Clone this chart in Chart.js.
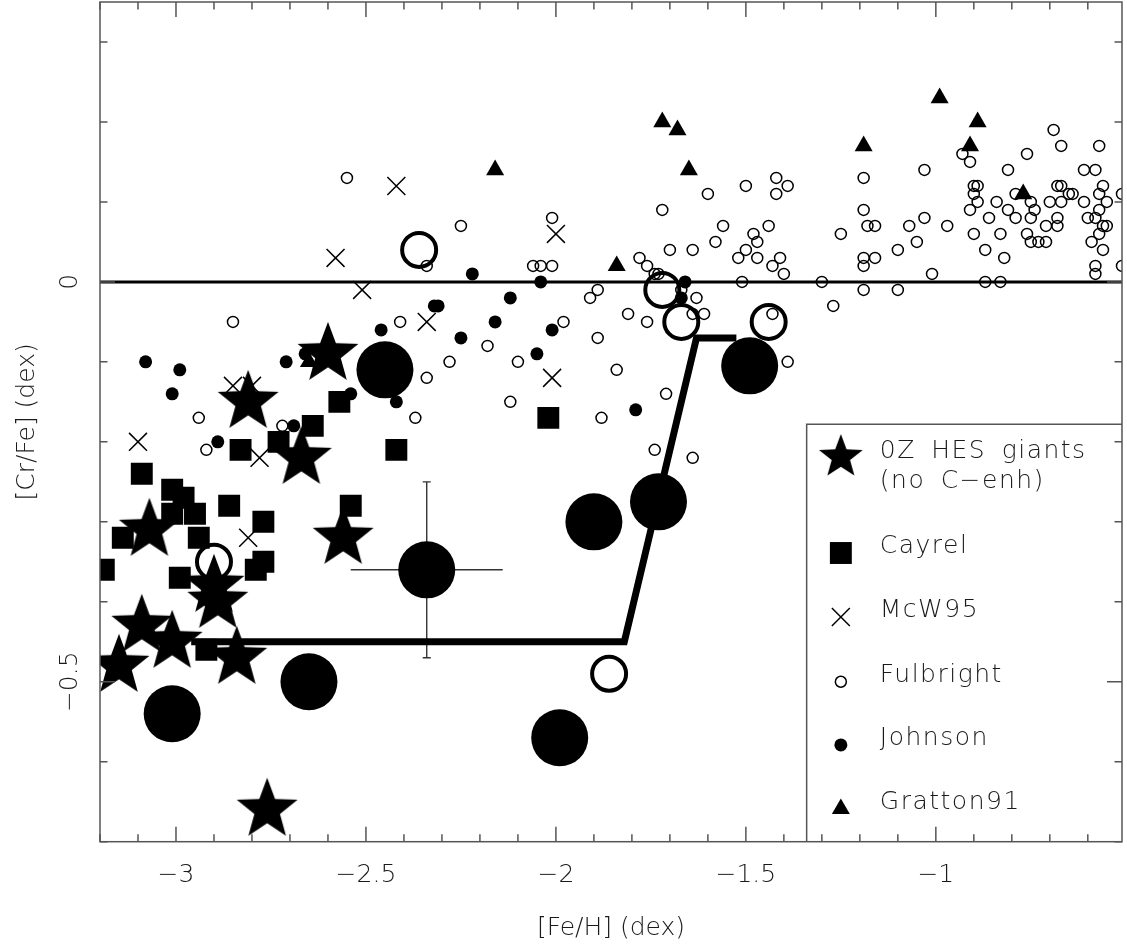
<!DOCTYPE html>
<html><head><meta charset="utf-8">
<script src="https://cdn.jsdelivr.net/npm/chart.js@4.4.1/dist/chart.umd.min.js"></script>
<style>html,body{margin:0;padding:0;background:#fff;overflow:hidden}canvas{display:block}</style>
</head><body>
<canvas id="c" width="1127" height="951" style="width:1127px;height:951px"></canvas>
<script>
// ---------------- data ----------------
const xTickVals = [-3, -2.5, -2, -1.5, -1];
const yTickVals = [0, -0.5];

// 0Z HES giants (no C-enh) - stars
const starX = [-2.60,-2.81,-2.67,-3.07,-2.56,-2.90,-2.89,-3.09,-3.01,-3.15,-2.84,-2.76];
const starY = [-0.09,-0.15,-0.22,-0.31,-0.32,-0.38,-0.40,-0.43,-0.45,-0.48,-0.47,-0.66];

// Cayrel - squares
const cayX = [-2.57,-2.64,-2.73,-2.83,-2.42,-3.09,-3.01,-2.98,-3.01,-2.95,-2.86,-2.77,-2.54,-3.14,-2.94,-3.19,-2.77,-2.79,-2.99,-2.92,-2.02];
const cayY = [-0.15,-0.18,-0.20,-0.21,-0.21,-0.24,-0.26,-0.27,-0.29,-0.29,-0.28,-0.30,-0.28,-0.32,-0.32,-0.36,-0.35,-0.36,-0.37,-0.46,-0.17];

// McW95 - crosses
const mcwX = [-2.85,-2.80,-3.10,-2.78,-2.81,-2.42,-2.00,-2.58,-2.51,-2.34,-2.01];
const mcwY = [-0.13,-0.13,-0.20,-0.22,-0.32,0.12,0.06,0.03,-0.01,-0.05,-0.12];

// Fulbright - small open circles
const fulX = [
-2.85,-2.41,-2.94,-2.37,-2.72,-2.92,-2.55,-2.25,-2.01,-2.34,
-2.06,-2.04,-2.01,-1.78,-1.76,-1.72,-1.89,-1.91,-1.98,-1.81,
-1.76,-2.18,-2.28,-2.10,-2.34,-1.89,-1.84,-2.12,-1.88,-1.42,
-1.39,-1.42,-1.50,-1.60,-1.56,-1.44,-1.48,-1.47,-1.58,-1.70,
-1.64,-1.50,-1.52,-1.47,-1.41,-1.43,-1.40,-1.74,-1.73,-1.51,
-1.30,-1.25,-1.27,-1.67,-1.63,-1.64,-1.61,-1.43,-1.39,-1.71,
-1.74,-1.64,-0.69,-0.67,-0.57,-0.93,-0.91,-0.76,-1.03,-0.81,
-0.61,-0.58,-1.19,-0.90,-0.89,-0.68,-0.67,-0.56,-0.90,-0.79,
-0.65,-0.64,-0.57,-0.51,-0.89,-0.84,-0.75,-0.70,-0.67,-0.61,
-0.55,-1.19,-0.91,-0.81,-0.74,-0.57,-1.03,-0.86,-0.79,-0.75,
-0.68,-0.60,-0.58,-1.18,-1.16,-1.07,-0.97,-0.71,-0.68,-0.56,
-0.55,-0.90,-0.83,-0.76,-0.57,-0.75,-0.73,-0.71,-1.05,-0.59,
-1.10,-0.87,-0.56,-1.19,-1.16,-0.82,-1.19,-0.58,-0.51,-1.01,
-0.58,-0.87,-0.83,-1.19,-1.10];
const fulY = [
-0.05,-0.05,-0.17,-0.17,-0.18,-0.21,0.13,0.07,0.08,0.02,
0.02,0.02,0.02,0.03,0.02,0.09,-0.01,-0.02,-0.05,-0.04,
-0.05,-0.08,-0.10,-0.10,-0.12,-0.07,-0.11,-0.15,-0.17,0.13,
0.12,0.11,0.12,0.11,0.07,0.07,0.06,0.05,0.05,0.04,
0.04,0.04,0.03,0.03,0.03,0.02,0.01,0.01,0.01,0.00,
0.00,0.06,-0.03,-0.01,-0.02,-0.04,-0.04,-0.04,-0.10,-0.14,
-0.21,-0.22,0.19,0.17,0.17,0.16,0.15,0.16,0.14,0.14,
0.14,0.14,0.13,0.12,0.12,0.12,0.12,0.12,0.11,0.11,
0.11,0.11,0.11,0.11,0.10,0.10,0.10,0.10,0.10,0.10,
0.10,0.09,0.09,0.09,0.09,0.09,0.08,0.08,0.08,0.08,
0.08,0.08,0.08,0.07,0.07,0.07,0.07,0.07,0.07,0.07,
0.07,0.06,0.06,0.06,0.06,0.05,0.05,0.05,0.05,0.05,
0.04,0.04,0.04,0.03,0.03,0.03,0.02,0.02,0.02,0.01,
0.01,0.00,0.00,-0.01,-0.01];

// Johnson - small filled circles
const johX = [-3.08,-2.99,-3.01,-2.71,-2.66,-2.46,-2.54,-2.42,-2.69,-2.89,-2.22,-2.04,-2.12,-2.32,-2.31,-2.16,-2.25,-2.01,-2.05,-1.79,-1.66,-1.67];
const johY = [-0.10,-0.11,-0.14,-0.10,-0.09,-0.06,-0.14,-0.15,-0.18,-0.20,0.01,0.00,-0.02,-0.03,-0.03,-0.05,-0.07,-0.06,-0.09,-0.16,0.00,-0.02];

// Gratton91 - triangles
const graX = [-2.16,-1.84,-1.65,-1.72,-1.68,-0.99,-0.89,-1.19,-0.91,-0.77,-2.65];
const graY = [0.14,0.02,0.14,0.20,0.19,0.23,0.20,0.17,0.17,0.11,-0.10];

// large filled circles
const bigX = [-2.45,-2.34,-3.01,-2.65,-1.99,-1.90,-1.73,-1.49];
const bigY = [-0.11,-0.36,-0.54,-0.50,-0.57,-0.30,-0.275,-0.105];

// error bar (on one large filled circle)
const errX = [-2.34];
const errY = [-0.36];
const errDx = [0.20];
const errDy = [0.11];

// large open circles
const openX = [-2.36,-2.90,-1.72,-1.67,-1.44,-1.86];
const openY = [0.04,-0.35,-0.01,-0.05,-0.05,-0.49];

// thick model line
const modelX = [-2.96,-1.82,-1.63,-1.525];
const modelY = [-0.45,-0.45,-0.07,-0.07];

// solar reference line
const refX = [-3.2,-0.51];
const refY = [0,0];

// ---------------- style ----------------
const FAM = "'DejaVu Sans', 'Liberation Sans', sans-serif";
const FW = '200';
const FS = 25;
const TXT = '#1a1a1a';
const AX = '#555';

function fmt(v){ return v === 0 ? '0' : (v < 0 ? '\u2212' : '') + String(Math.abs(v)); }
const pts = (xs, ys) => xs.map((x, i) => ({x: x, y: ys[i]}));

function starCanvas(R, ratio){
  const s = Math.ceil(2 * R + 4);
  const c = document.createElement('canvas'); c.width = s; c.height = s;
  const g = c.getContext('2d'); g.fillStyle = '#000'; g.beginPath();
  for (let i = 0; i < 10; i++){
    const a = -Math.PI / 2 + i * Math.PI / 5;
    const r = (i % 2) ? R * ratio : R;
    const px = s / 2 + r * Math.cos(a), py = s / 2 + r * Math.sin(a);
    if (i) g.lineTo(px, py); else g.moveTo(px, py);
  }
  g.closePath(); g.fill();
  return c;
}
const starImg = starCanvas(32, 0.42);
const starLegendImg = starCanvas(23, 0.42);

const CLEAR = 'rgba(0,0,0,0)';
const dsGratton = {label:'Gratton91', data:pts(graX, graY), pointStyle:'triangle', pointRadius:10.4, backgroundColor:'#000', borderColor:'#000', borderWidth:0, clip:0};
const dsJohnson = {label:'Johnson', data:pts(johX, johY), pointStyle:'circle', pointRadius:6.5, backgroundColor:'#000', borderColor:'#000', borderWidth:0, clip:0};
const dsFul = {label:'Fulbright', data:pts(fulX, fulY), pointStyle:'circle', pointRadius:5.5, backgroundColor:CLEAR, borderColor:'#000', borderWidth:1.5, clip:0};
const dsMcw = {label:'McW95', data:pts(mcwX, mcwY), pointStyle:'crossRot', pointRadius:12.7, backgroundColor:CLEAR, borderColor:'#000', borderWidth:1.5, clip:0};
const dsCay = {label:'Cayrel', data:pts(cayX, cayY), pointStyle:'rect', pointRadius:15.5, backgroundColor:'#000', borderColor:'#000', borderWidth:0, clip:0};
const dsStar = {label:'0Z HES giants (no C\u2212enh)', data:pts(starX, starY), pointStyle:starImg, pointRadius:30, clip:0};
const dsOpen = {label:'open', data:pts(openX, openY), pointStyle:'circle', pointRadius:17, backgroundColor:CLEAR, borderColor:'#000', borderWidth:4, clip:0};
const dsBig = {label:'big', data:pts(bigX, bigY), pointStyle:'circle', pointRadius:28.5, backgroundColor:'#000', borderColor:'#000', borderWidth:0, clip:0};
const dsModel = {label:'model', data:pts(modelX, modelY), showLine:true, pointRadius:0, borderColor:'#000', borderWidth:7, borderJoinStyle:'miter', borderCapStyle:'butt', clip:0};
const dsRef = {label:'ref', data:pts(refX, refY), showLine:true, pointRadius:0, borderColor:'#000', borderWidth:3, clip:0};

// legend layout (data coordinates, like the original plotting program)
const legendCfg = {
  boxX:-1.34, boxY:-0.178, symX:-1.25, txtX:-1.1475,
  rows:[
    {ds:dsStar, img:starLegendImg, sy:-0.219, lines:['0Z HES giants','(no C\u2212enh)'], ty:[-0.220,-0.258]},
    {ds:dsCay, sy:-0.339, lines:['Cayrel'], ty:[-0.339]},
    {ds:dsMcw, sy:-0.419, lines:['McW95'], ty:[-0.419]},
    {ds:dsFul, sy:-0.500, lines:['Fulbright'], ty:[-0.500]},
    {ds:dsJohnson, sy:-0.579, lines:['Johnson'], ty:[-0.579]},
    {ds:dsGratton, sy:-0.659, lines:['Gratton91'], ty:[-0.659]}
  ]
};

const framePlugin = {
  id:'frame',
  beforeDatasetsDraw(chart){
    const {ctx, scales:{x, y}} = chart;
    ctx.save(); ctx.strokeStyle = '#333'; ctx.lineWidth = 1.4;
    errX.forEach((cx, i) => {
      const px = x.getPixelForValue(cx), py = y.getPixelForValue(errY[i]);
      const x0 = x.getPixelForValue(cx - errDx[i]), x1 = x.getPixelForValue(cx + errDx[i]);
      const y0 = y.getPixelForValue(errY[i] - errDy[i]), y1 = y.getPixelForValue(errY[i] + errDy[i]);
      ctx.beginPath();
      ctx.moveTo(x0, py); ctx.lineTo(x1, py);
      ctx.moveTo(px, y0); ctx.lineTo(px, y1);
      ctx.moveTo(px - 4, y0); ctx.lineTo(px + 4, y0);
      ctx.moveTo(px - 4, y1); ctx.lineTo(px + 4, y1);
      ctx.stroke();
    });
    ctx.restore();
  },
  afterDatasetsDraw(chart){
    const {ctx, chartArea:a, scales:{x, y}} = chart;
    ctx.save();
    ctx.strokeStyle = AX; ctx.lineWidth = 1.5;
    ctx.strokeRect(a.left, a.top, a.right - a.left, a.bottom - a.top);
    ctx.beginPath();
    for (let k = Math.ceil(x.min * 10 - 1e-9); k <= Math.floor(x.max * 10 + 1e-9); k++){
      const L = (k % 5 === 0) ? 15 : 7.5, p = x.getPixelForValue(k / 10);
      ctx.moveTo(p, a.bottom); ctx.lineTo(p, a.bottom - L);
      ctx.moveTo(p, a.top); ctx.lineTo(p, a.top + L);
    }
    for (let k = Math.ceil(y.min * 10 - 1e-9); k <= Math.floor(y.max * 10 + 1e-9); k++){
      const L = (k % 5 === 0) ? 15 : 7.5, p = y.getPixelForValue(k / 10);
      ctx.moveTo(a.left, p); ctx.lineTo(a.left + L, p);
      ctx.moveTo(a.right, p); ctx.lineTo(a.right - L, p);
    }
    ctx.stroke();

    // y tick labels (rotated)
    ctx.fillStyle = TXT; ctx.font = FW + ' ' + FS + 'px ' + FAM;
    ctx.textAlign = 'center'; ctx.textBaseline = 'middle';
    yTickVals.forEach(v => {
      ctx.save(); ctx.translate(a.left - 30, y.getPixelForValue(v)); ctx.rotate(-Math.PI / 2);
      ctx.fillText(fmt(v), 0, 0); ctx.restore();
    });

    // legend box
    const bx = x.getPixelForValue(legendCfg.boxX), by = y.getPixelForValue(legendCfg.boxY);
    ctx.beginPath(); ctx.moveTo(bx, a.bottom); ctx.lineTo(bx, by); ctx.lineTo(a.right, by); ctx.stroke();

    const sx = x.getPixelForValue(legendCfg.symX), tx = x.getPixelForValue(legendCfg.txtX);
    ctx.textAlign = 'left'; ctx.textBaseline = 'alphabetic';
    if ('letterSpacing' in ctx) ctx.letterSpacing = '1.5px';
    if ('wordSpacing' in ctx) ctx.wordSpacing = '6px';
    legendCfg.rows.forEach(r => {
      const d = r.ds, sy = y.getPixelForValue(r.sy);
      ctx.save();
      ctx.fillStyle = d.backgroundColor || '#000'; ctx.strokeStyle = d.borderColor || '#000'; ctx.lineWidth = d.borderWidth || 0;
      Chart.helpers.drawPoint(ctx, {pointStyle: r.img || d.pointStyle, radius: d.pointRadius, borderWidth: d.borderWidth || 0, rotation: 0}, sx, sy);
      ctx.restore();
      r.lines.forEach((t, i) => ctx.fillText(t, tx, y.getPixelForValue(r.ty[i])));
    });
    ctx.restore();
  }
};

new Chart(document.getElementById('c'), {
  type:'scatter',
  data:{datasets:[dsGratton, dsJohnson, dsFul, dsMcw, dsCay, dsStar, dsOpen, dsBig, dsModel, dsRef]},
  options:{
    responsive:false, animation:false, events:[],
    layout:{autoPadding:false, padding:{top:2, right:5, left:0, bottom:0}},
    plugins:{legend:{display:false}, tooltip:{enabled:false}},
    scales:{
      x:{
        type:'linear', min:-3.2, max:-0.51,
        grid:{display:false}, border:{display:false},
        afterBuildTicks: s => { s.ticks = xTickVals.map(v => ({value:v})); },
        afterFit: s => { s.height = 109.3; },
        ticks:{font:{family:FAM, size:FS, weight:FW}, color:TXT, padding:11, autoSkip:false, maxRotation:0, minRotation:0, callback: v => fmt(v)},
        title:{display:true, text:'[Fe/H] (dex)', font:{family:FAM, size:FS, weight:FW}, color:TXT, padding:{top:0, bottom:8}}
      },
      y:{
        type:'linear', min:-0.7, max:0.35,
        grid:{display:false}, border:{display:false},
        ticks:{display:false},
        afterFit: s => { s.width = 100; },
        title:{display:true, text:'[Cr/Fe] (dex)', font:{family:FAM, size:FS, weight:FW}, color:TXT, padding:{top:12, bottom:0}}
      }
    }
  },
  plugins:[framePlugin]
});
</script>
</body></html>
